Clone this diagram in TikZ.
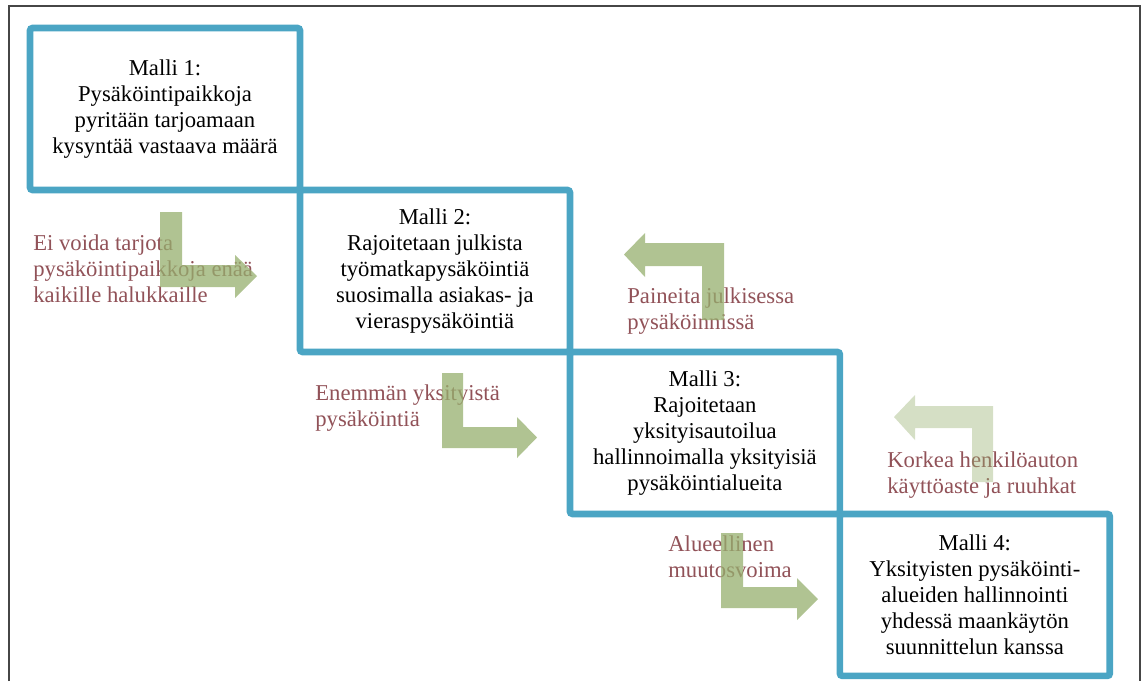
\documentclass[tikz,border=0pt]{standalone}
\usepackage{fontspec}
\setmainfont{Liberation Serif}
\definecolor{mallblue}{RGB}{75,165,196}
\definecolor{causered}{RGB}{145,82,88}
\definecolor{turngreen}{RGB}{150,175,110}
\definecolor{framegray}{RGB}{70,70,70}

\begin{document}
\begin{tikzpicture}[
    x=0.02cm, y=-0.02cm,
    malli/.style={rectangle, draw=mallblue, line width=3.8pt, rounded corners=1.5pt, outer sep=0pt,
      minimum width=5.4cm, minimum height=3.24cm, inner sep=0pt, align=center,
      font=\fontsize{12.9}{14.8}\selectfont},
    cause/.style={anchor=north west, inner sep=0pt, align=left, text=causered,
      font=\fontsize{12.9}{14.8}\selectfont},
    turn/.style={fill=turngreen, fill opacity=0.75, draw=none},
    faintturn/.style={turn, fill opacity=0.4}
  ]
    \useasboundingbox (0,0) rectangle (1142,681);
    \draw[framegray, line width=1.2pt] (9,681) -- (9,6) -- (1140,6) -- (1140,681);

    \node[malli] (m1) at (165,109) {Malli 1:\\Pysäköintipaikkoja\\pyritään tarjoamaan\\kysyntää vastaava määrä};
    \node[malli, anchor=north west] (m2) at (m1.south east) {Malli 2:\\Rajoitetaan julkista\\työmatkapysäköintiä\\suosimalla asiakas- ja\\vieraspysäköintiä};
    \node[malli, anchor=north west] (m3) at (m2.south east) {Malli 3:\\Rajoitetaan\\yksityisautoilua\\hallinnoimalla yksityisiä\\pysäköintialueita};
    \node[malli, anchor=north west] (m4) at (m3.south east) {Malli 4:\\Yksityisten pysäköinti-\\alueiden hallinnointi\\yhdessä maankäytön\\suunnittelun kanssa};

    \node[cause] (c1) at (33,234.5) {Ei voida tarjota\\pysäköintipaikkoja enää\\kaikille halukkaille};
    \node[cause] (c2) at (315,384.5) {Enemmän yksityistä\\pysäköintiä};
    \node[cause] (c3) at (668,535.5) {Alueellinen\\muutosvoima};
    \node[cause] (p1) at (627,287.5) {Paineita julkisessa\\pysäköinnissä};
    \node[cause] (p2) at (887,451.5) {Korkea henkilöauton\\käyttöaste ja ruuhkat};

    \fill[turn] (160,212) -- (182,212) -- (182,265) -- (235,265) -- (235,255) -- (257,276)
      -- (235,298) -- (235,287) -- (160,287) -- cycle;
    \fill[turn] (442,373) -- (463,373) -- (463,427) -- (517,427) -- (517,417) -- (537,437.5)
      -- (517,458) -- (517,448) -- (442,448) -- cycle;
    \fill[turn] (721,533) -- (743,533) -- (743,587) -- (797,587) -- (797,578) -- (818,599)
      -- (797,620) -- (797,608) -- (721,608) -- cycle;
    \fill[turn] (724,243) -- (724,320) -- (702,320) -- (702,266) -- (645,266) -- (645,277)
      -- (624,254.5) -- (645,233) -- (645,243) -- cycle;
    \fill[faintturn] (993,406) -- (993,482) -- (972,482) -- (972,428) -- (915,428) -- (915,440)
      -- (894,417) -- (915,395) -- (915,406) -- cycle;
  \end{tikzpicture}
\end{document}
